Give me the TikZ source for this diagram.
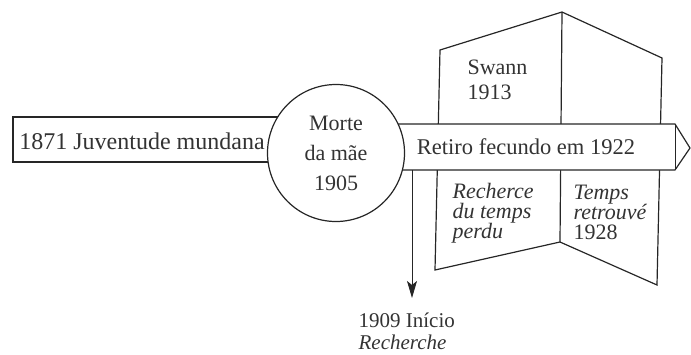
\documentclass[tikz,border=0pt]{standalone}
\usepackage{fontspec}
\setmainfont{Liberation Serif}
\usetikzlibrary{positioning,arrows.meta}

\begin{document}
\begin{tikzpicture}[x=1pt,y=-1pt,>={Stealth[length=17pt,width=10pt,inset=4pt]},line width=1.2pt,
	every node/.style={text=black!80},
	txt/.style={inner sep=0pt,align=left,anchor=west,font=\fontsize{22}{20}\selectfont},
	]
	\useasboundingbox (0,0) rectangle (691,354);

	% livro aberto
	\coordinate (lt) at (440,50);
	\coordinate (st) at (562,12);
	\coordinate (rt) at (662,58);
	\coordinate (lb) at (435,270);
	\coordinate (sb) at (560,242);
	\coordinate (rb) at (657,285);
	\draw[black!85] (lb) -- (lt) -- (st) -- (rt) -- (rb) -- (sb) -- cycle;
	\draw[black!85] (st) -- (sb);

	\node[txt,font=\fontsize{22}{25}\selectfont] (swann) at (467,80) {Swann\\1913};
	\node[txt] (perdu) at (452,213) {\textit{Recherce}\\\textit{du temps}\\\textit{perdu}};
	\node[txt] (retrouve) at (573,212) {\textit{Temps}\\\textit{retrouvé}\\1928};

	% faixa com seta
	\coordinate (f1) at (336,124);
	\coordinate (f2) at (675,124);
	\coordinate (f3) at (690,148);
	\coordinate (f4) at (675,170);
	\coordinate (f5) at (336,170);
	\draw[black!85,fill=white] (f1) -- (f2) -- (f3) -- (f4) -- (f5) -- cycle;
	\draw[black!85,line width=0.8pt] (f2) -- (f4);
	\node[font=\fontsize{22.5}{26}\selectfont] (retiro) at (526,147) {Retiro fecundo em 1922};

	% juventude
	\coordinate (j1) at (13,117);
	\coordinate (j2) at (320,162);
	\draw[black!85,fill=white] (j1) rectangle (j2);
	\node[font=\fontsize{24}{26}\selectfont] (juv) at (142,141) {1871 Juventude mundana};

	% morte da mae
	\node[circle,draw=black!85,fill=white,minimum size=137pt,inner sep=0pt,align=center,
		font=\fontsize{22}{30}\selectfont] (mae) at (336,153) {Morte\\da mãe\\1905};

	% inicio da recherche
	\coordinate (ini) at (412,170);
	\coordinate (inifim) at (412,298);
	\draw[->,black!85,line width=0.9pt] (ini) -- (inifim);
	\node[txt,font=\fontsize{21}{22}\selectfont] (inicio) at (358,331) {1909 Início\\\textit{Recherche}};

\end{tikzpicture}
\end{document}
